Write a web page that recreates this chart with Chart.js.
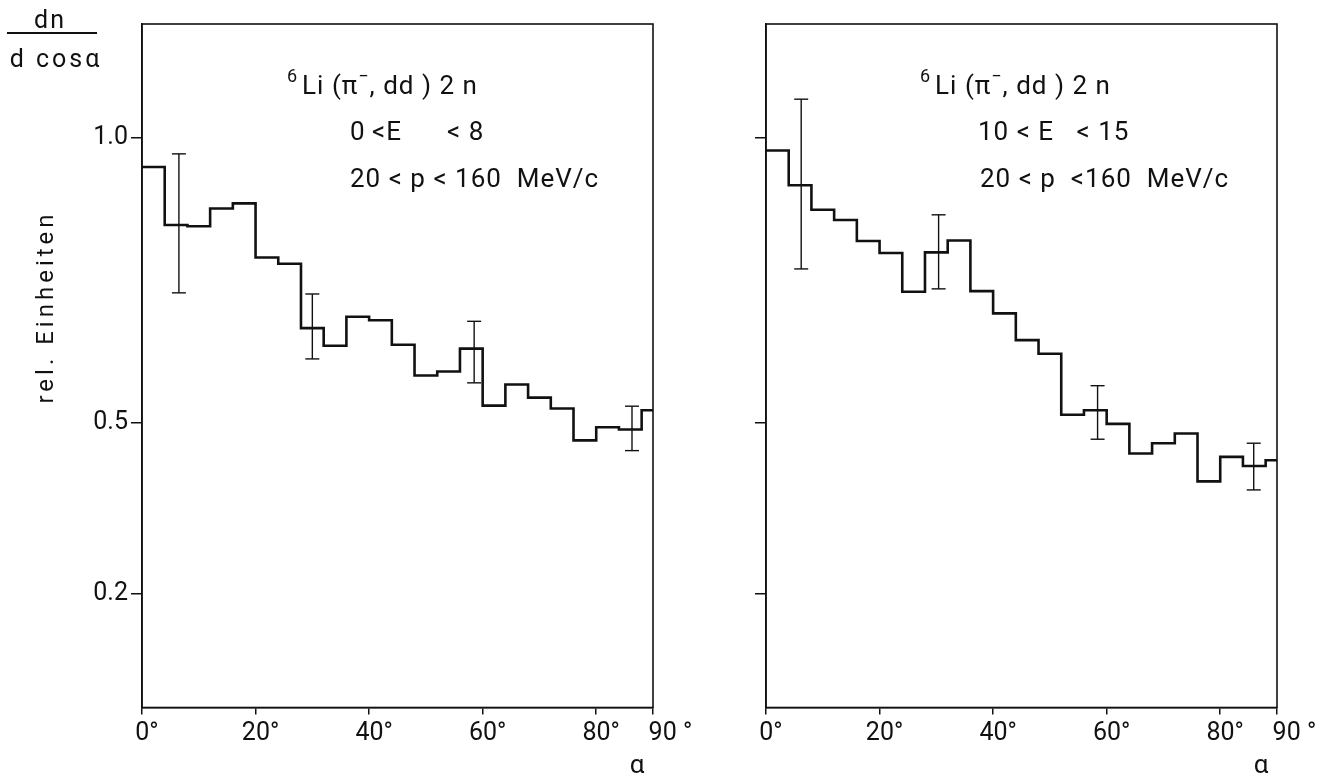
<!DOCTYPE html>
<html>
<head>
<meta charset="utf-8">
<script src="https://cdn.jsdelivr.net/npm/chart.js@4/dist/chart.umd.min.js"></script>
<style>
  html, body { margin: 0; padding: 0; background: #fff; }
  #page { position: relative; width: 1332px; height: 780px; overflow: hidden; }
  canvas { position: absolute; top: 0; }
</style>
</head>
<body>
<div id="page">
  <canvas id="left" width="700" height="780" style="left:0"></canvas>
  <canvas id="right" width="672" height="780" style="left:660px"></canvas>
</div>
<script>
// Angular distribution of the deuteron pair, 4-degree bins (last bin 88-90)
const binStart = [0, 4, 8, 12, 16, 20, 24, 28, 32, 36, 40, 44, 48, 52, 56, 60, 64, 68, 72, 76, 80, 84, 88];
const angleMax = 90;

// 0 < E < 8
const lowERate = [0.949, 0.847, 0.845, 0.876, 0.885, 0.790, 0.779, 0.666, 0.635, 0.686, 0.680, 0.637,
                  0.583, 0.590, 0.630, 0.530, 0.567, 0.544, 0.525, 0.469, 0.492, 0.488, 0.522];
// 10 < E < 15
const highERate = [0.978, 0.917, 0.874, 0.856, 0.819, 0.798, 0.730, 0.799, 0.820, 0.731, 0.692, 0.645,
                   0.621, 0.514, 0.522, 0.498, 0.446, 0.464, 0.481, 0.397, 0.440, 0.424, 0.434];

// representative statistical errors
const lowEErrAngle = [6.5, 30, 58.5, 86.3];
const lowEErrMid   = [0.850, 0.669, 0.624, 0.490];
const lowEErrHalf  = [0.122, 0.057, 0.054, 0.039];
const highEErrAngle = [6.2, 30.4, 58.4, 85.9];
const highEErrMid   = [0.919, 0.800, 0.518, 0.423];
const highEErrHalf  = [0.149, 0.065, 0.047, 0.041];

const xTickValues = [0, 20, 40, 60, 80, 90];
const yTickValues = [0.2, 0.5, 1.0];

const INK = '#111';
const FONT = 'Roboto';

function stepData(values) {
  const pts = binStart.map((x, i) => ({ x: x, y: values[i] }));
  pts.push({ x: angleMax, y: values[values.length - 1] });
  return pts;
}

function errorSets(angles, mids, halves) {
  return angles.map((a, i) => ({
    data: [{ x: a, y: mids[i] - halves[i] }, { x: a, y: mids[i] + halves[i] }],
    showLine: true,
    borderColor: INK,
    borderWidth: 1.4,
    pointStyle: 'line',
    pointRadius: 7,
    pointHoverRadius: 7,
    pointBorderWidth: 1.4,
    pointBorderColor: INK,
    clip: false
  }));
}

// draws a run of text pieces left to right; pieces may be raised as superscripts
function drawRun(ctx, x, baseline, pieces, size, spacing) {
  let cx = x;
  pieces.forEach(p => {
    const s = p.sup ? Math.round(size * 0.68) : size;
    ctx.font = s + 'px ' + FONT;
    ctx.letterSpacing = spacing + 'px';
    const y = p.sup ? baseline - size * 0.45 : baseline;
    if (p.at !== undefined) cx = p.at;
    ctx.fillText(p.t, cx, y);
    cx += ctx.measureText(p.t).width + (p.gap || 0);
  });
}

const framePlugin = {
  id: 'frame',
  afterDatasetsDraw(chart) {
    const { ctx, chartArea: a } = chart;
    ctx.save();
    ctx.strokeStyle = INK;
    ctx.lineWidth = 1.6;
    ctx.strokeRect(a.left, a.top, a.right - a.left, a.bottom - a.top);
    ctx.restore();
  }
};

function notesPlugin(cfg) {
  return {
    id: 'notes',
    afterDraw(chart) {
      const ctx = chart.ctx;
      ctx.save();
      ctx.fillStyle = INK;
      ctx.textAlign = 'left';
      ctx.textBaseline = 'alphabetic';
      cfg.runs.forEach(r => drawRun(ctx, r.x, r.y, r.pieces, 26, 1));
      // angle symbol under the right end of the axis
      ctx.font = '26px ' + FONT;
      ctx.letterSpacing = '0px';
      ctx.textAlign = 'center';
      const xs = chart.scales.x;
      ctx.fillText('α', xs.getPixelForValue(angleMax) - 16, 773);
      if (cfg.quantity) {
        // dn / d cos α
        ctx.font = '25px ' + FONT;
        ctx.letterSpacing = '2px';
        ctx.fillText('dn', 50, 28);
        ctx.letterSpacing = '3px';
        ctx.fillText('d cosα', 56, 67);
        ctx.lineWidth = 2;
        ctx.strokeStyle = INK;
        ctx.beginPath();
        ctx.moveTo(7, 33);
        ctx.lineTo(97, 33);
        ctx.stroke();
        // axis quantity
        ctx.save();
        ctx.translate(47, 307);
        ctx.rotate(-Math.PI / 2);
        ctx.textBaseline = 'middle';
        ctx.font = '24px ' + FONT;
        ctx.letterSpacing = '4px';
        ctx.fillText('rel. Einheiten', 0, 0);
        ctx.restore();
      }
      ctx.restore();
    }
  };
}

function makePanel(id, rates, errs, cfg) {
  const datasets = [{
    data: stepData(rates),
    stepped: 'before',
    borderColor: INK,
    borderWidth: 2.6,
    pointRadius: 0,
    fill: false
  }].concat(errorSets(errs[0], errs[1], errs[2]));

  return new Chart(document.getElementById(id), {
    type: 'line',
    data: { datasets: datasets },
    plugins: [framePlugin, notesPlugin(cfg)],
    options: {
      responsive: false,
      animation: false,
      events: [],
      layout: { padding: { top: 24, right: cfg.padRight, bottom: 0, left: 0 } },
      plugins: {
        legend: { display: false },
        tooltip: { enabled: false }
      },
      scales: {
        x: {
          type: 'linear',
          min: 0,
          max: angleMax,
          afterBuildTicks: s => { s.ticks = xTickValues.map(v => ({ value: v })); },
          afterFit: s => { s.height = 72.5; },
          ticks: {
            color: INK,
            font: { family: FONT, size: 25 },
            padding: 4,
            maxRotation: 0,
            autoSkip: false,
            labelOffset: 5,
            callback: v => v === angleMax ? '\u00a0\u00a0\u00a0\u00a090 °' : v + '°'
          },
          grid: { drawOnChartArea: false, drawTicks: true, tickLength: 7, color: INK, lineWidth: 1.5 },
          border: { display: true, color: INK, width: 1.6 }
        },
        y: {
          type: 'linear',
          min: 0,
          max: 1.2,
          afterBuildTicks: s => { s.ticks = yTickValues.map(v => ({ value: v })); },
          afterFit: s => { s.width = cfg.axisWidth; },
          ticks: {
            display: cfg.yLabels,
            color: INK,
            font: { family: FONT, size: 25 },
            padding: 3,
            callback: v => v.toFixed(1)
          },
          grid: { drawOnChartArea: false, drawTicks: true, tickLength: 11, color: INK, lineWidth: 1.5 },
          border: { display: true, color: INK, width: 1.6 }
        }
      }
    }
  });
}

const reaction = [
  { t: '6', sup: true, gap: 4 },
  { t: 'Li (π' },
  { t: '−', sup: true },
  { t: ', dd ) 2 n' }
];

makePanel('left', lowERate, [lowEErrAngle, lowEErrMid, lowEErrHalf], {
  axisWidth: 142,
  padRight: 47,
  yLabels: true,
  quantity: true,
  runs: [
    { x: 287, y: 94, pieces: reaction },
    { x: 350, y: 140, pieces: [{ t: '0' }, { t: '<E', at: 372 }, { t: '< 8', at: 447 }] },
    { x: 350, y: 187, pieces: [{ t: '20 < p < 160  MeV/c' }] }
  ]
});

makePanel('right', highERate, [highEErrAngle, highEErrMid, highEErrHalf], {
  axisWidth: 106,
  padRight: 55,
  yLabels: false,
  quantity: false,
  runs: [
    { x: 260, y: 94, pieces: reaction },
    { x: 318, y: 140, pieces: [{ t: '10 < E   < 15' }] },
    { x: 320, y: 187, pieces: [{ t: '20 < p  <160  MeV/c' }] }
  ]
});
</script>
</body>
</html>
